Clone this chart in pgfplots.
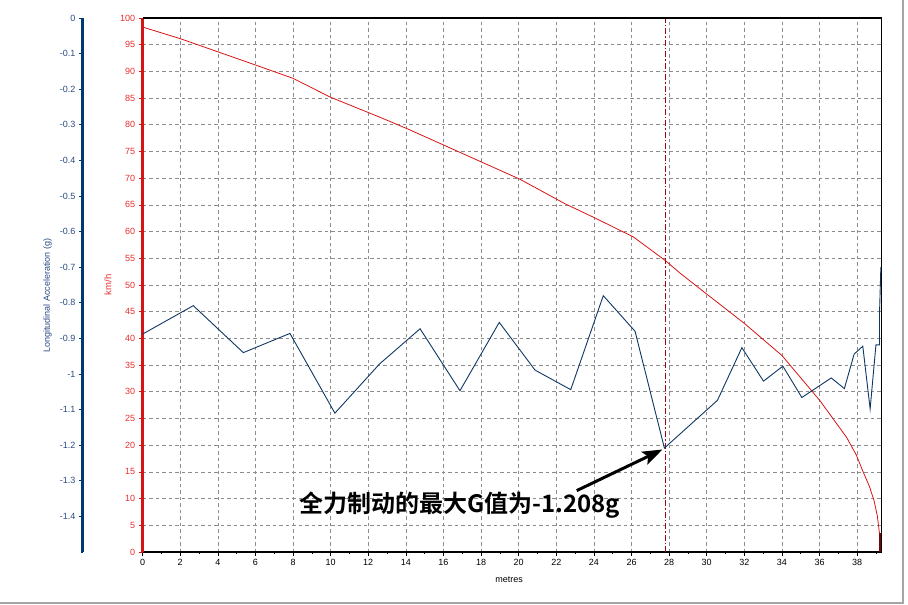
\documentclass[border=0pt]{standalone}
\usepackage{pgfplots}
\pgfplotsset{compat=1.18}
\usepackage{fontspec}
\setmainfont{Liberation Sans}
\newfontfamily\cjk{Noto Sans CJK SC}[BoldFont={Noto Sans CJK SC Bold}]
\usetikzlibrary{arrows.meta}

\definecolor{redline}{RGB}{215,20,20}
\definecolor{redlab}{RGB}{232,45,45}
\definecolor{blueax}{RGB}{0,56,115}
\definecolor{bluelab}{RGB}{40,75,130}
\definecolor{blueline}{RGB}{15,55,100}
\definecolor{marker}{RGB}{150,10,10}

\begin{document}
\begin{tikzpicture}
% speed axis (main, with grid)
\begin{axis}[
    at={(0,0)}, anchor=south west,
    scale only axis, width=739bp, height=534bp,
    xmin=0, xmax=39.3, ymin=0, ymax=100,
    axis x line*=bottom, axis y line*=left,
    x axis line style={black, line width=2.5bp, -},
    y axis line style={redline, line width=2.5bp, -},
    xtick={0,2,...,38}, minor xtick={0,1,...,39},
    ytick={0,5,...,100}, minor ytick={0,1,...,100},
    tick align=outside,
    major tick length=4bp, minor tick length=2bp,
    x tick style={black, line width=0.6bp},
    y tick style={redline, line width=0.6bp},
    grid=major,
    grid style={gray!90, dash pattern=on 3.5bp off 3bp, line width=0.6bp},
    /pgf/number format/assume math mode=true,
    tick label style={font=\fontsize{9bp}{10bp}\selectfont},
    x tick label style={black},
    y tick label style={redlab},
    xlabel={metres},
    xlabel style={at={(axis description cs:0.496,-0.0524)}, anchor=center, font=\fontsize{9bp}{10bp}\selectfont},
    ylabel={km/h},
    ylabel style={at={(axis description cs:-0.0468,0.5)}, anchor=center, font=\fontsize{9.5bp}{10bp}\selectfont, redlab},
    clip=false,
]
\addplot[redline, line width=0.8bp] coordinates {
    (0,98.3) (2.03,96.1) (6.0,91.2) (8.0,88.7) (9.97,85.2) (12.63,81.4)
    (14.05,79.3) (20.07,69.8) (22.47,65.2) (23.97,62.7) (26.1,59.0)
    (27.79,54.6) (28.59,52.2) (30.0,48.3) (32.04,42.7) (34.0,36.8)
    (36.03,28.3) (37.45,21.4) (37.95,18.2) (38.33,14.9) (38.65,12.3)
    (38.9,9.6) (39.07,6.8) (39.19,3.4) (39.26,0)
};
\addplot[marker, line width=1bp, dash pattern=on 6bp off 2bp on 1.5bp off 2bp] coordinates {(27.8,0) (27.8,100)};
\addplot[marker!80!black, line width=2bp] coordinates {(39.24,0) (39.24,3.5)};
\draw[black, line width=1.5bp] (rel axis cs:0,1) -- (rel axis cs:1,1) -- (rel axis cs:1,0);
\draw[black, line width=3bp, -{Stealth[length=20bp, width=14bp, inset=4bp]}] (axis cs:23.09,11.5) -- (axis cs:27.65,19.2);
\node[font=\cjk\bfseries\fontsize{24bp}{26bp}\selectfont, anchor=center] at (axis cs:16.86,8.7) {全力制动的最大G值为-1.208g};
\end{axis}
% acceleration axis (offset to the left)
\begin{axis}[
    at={(739bp,0)}, anchor=south east,
    scale only axis, width=798.7bp, height=534bp,
    xmin=-3.17, xmax=39.3, ymin=-1.5, ymax=0,
    hide x axis,
    axis y line*=left,
    y axis line style={blueax, line width=3bp, -},
    ytick={0,-0.1,-0.2,-0.3,-0.4,-0.5,-0.6,-0.7,-0.8,-0.9,-1,-1.1,-1.2,-1.3,-1.4},
    minor ytick={-1.5,-1.48,...,0},
    tick align=outside,
    major tick length=4bp, minor tick length=2bp,
    y tick style={blueax, line width=0.7bp},
    /pgf/number format/assume math mode=true,
    y tick label style={bluelab, font=\fontsize{9bp}{10bp}\selectfont},
    ylabel={Longitudinal Acceleration (g)},
    ylabel style={at={(axis description cs:-0.0444,0.48)}, anchor=center, font=\fontsize{9bp}{10bp}\selectfont, bluelab},
    clip=false,
]
\addplot[blueline, line width=0.9bp] coordinates {
    (0,-0.888) (2.70,-0.808) (5.36,-0.940) (7.84,-0.886) (10.23,-1.110)
    (12.6,-0.972) (14.76,-0.873) (16.88,-1.047) (18.97,-0.855) (20.87,-0.989)
    (22.77,-1.044) (24.50,-0.780) (26.19,-0.880) (27.75,-1.208) (30.57,-1.074)
    (31.87,-0.926) (33.02,-1.020) (34.05,-0.978) (35.06,-1.066) (36.62,-1.011)
    (37.32,-1.041) (37.84,-0.944) (38.30,-0.922) (38.69,-1.098) (39.00,-0.918)
    (39.19,-0.918) (39.19,-0.827) (39.26,-0.700)
};
\end{axis}
\draw[gray!70, line width=1.5bp] (-142.6bp,-51bp) -- (760.4bp,-51bp) -- (760.4bp,552bp);
\pgfresetboundingbox
\path[use as bounding box] (-142.6bp,-53bp) rectangle (765.4bp,552bp);
\end{tikzpicture}
\end{document}
